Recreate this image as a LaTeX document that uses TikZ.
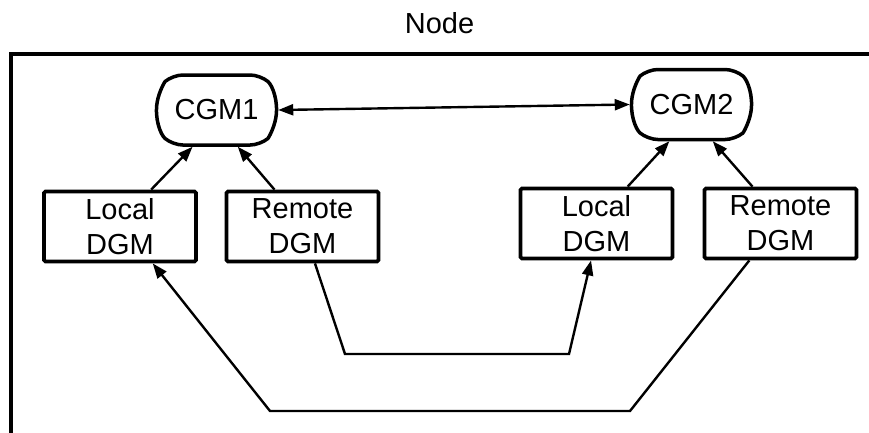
\documentclass[tikz,border=0pt]{standalone}
\usepackage{fontspec}
\setmainfont{Liberation Sans}
\usetikzlibrary{arrows.meta,calc,shapes.misc}
\begin{document}
\begin{tikzpicture}[x=1pt,y=-1pt,
  txt/.style={font=\fontsize{29}{35}\selectfont, align=center, inner sep=0pt},
  cgm/.style={txt, draw, line width=3.5pt, rounded rectangle, rounded rectangle arc length=100, rounded corners=10pt, minimum width=120pt, minimum height=70pt},
  dgm/.style={txt, draw, line width=3.8pt, rounded corners=1.5pt, minimum width=152pt, minimum height=70pt},
  conn/.style={line width=2.4pt, -{Triangle[length=15pt,width=11pt]}, line join=miter}
]
\useasboundingbox (0,0) rectangle (869,432);
\begin{scope}
\clip (0,0) rectangle (869,432);
\draw[line width=4.5pt] (11,54) rectangle (900,460);
\end{scope}
\node[txt] (title) at (439.5,23.5) {Node};
\node[cgm] (cgm1) at (216.5,110) {CGM1};
\node[cgm] (cgm2) at (691.5,104.5) {CGM2};
\node[dgm] (ld1) at (120,226.5) {Local\\DGM};
\node[dgm] (rd1) at (302.5,226.5) {Remote\\DGM};
\node[dgm] (ld2) at (596.5,223.5) {Local\\DGM};
\node[dgm] (rd2) at (780.5,223.5) {Remote\\DGM};
\draw[line width=2.4pt, {Triangle[length=15pt,width=11pt]}-{Triangle[length=15pt,width=11pt]}] (cgm1.east) -- (cgm2.west);
\draw[conn] ($(ld1.north west)!0.70!(ld1.north east)$) -- ($(cgm1.south west)!0.23!(cgm1.south east)$);
\draw[conn] ($(rd1.north west)!0.32!(rd1.north east)$) -- ($(cgm1.south west)!0.74!(cgm1.south east)$);
\draw[conn] ($(ld2.north west)!0.70!(ld2.north east)$) -- ($(cgm2.south west)!0.25!(cgm2.south east)$);
\draw[conn] ($(rd2.north west)!0.32!(rd2.north east)$) -- ($(cgm2.south west)!0.74!(cgm2.south east)$);
\coordinate (a1) at (345,354);
\coordinate (a2) at (569,354);
\coordinate (b1) at (630,411);
\coordinate (b2) at (270,411);
\draw[conn] ($(rd1.south west)!0.58!(rd1.south east)$) -- (a1) -- (a2) -- ($(ld2.south west)!0.465!(ld2.south east)$);
\draw[conn] ($(rd2.south west)!0.30!(rd2.south east)$) -- (b1) -- (b2) -- ($(ld1.south west)!0.71!(ld1.south east)$);
\end{tikzpicture}
\end{document}
